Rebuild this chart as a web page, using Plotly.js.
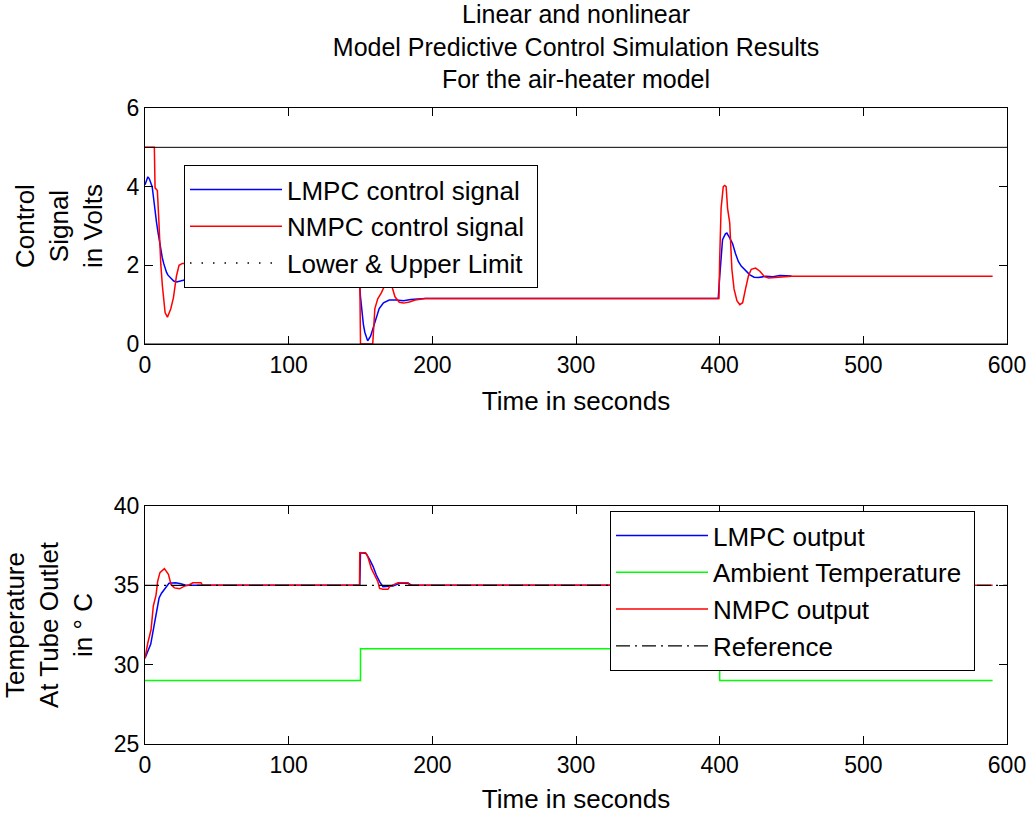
<!DOCTYPE html>
<html>
<head>
<meta charset="utf-8">
<script src="https://cdn.plot.ly/plotly-3.0.1.min.js"></script>
<style>html,body{margin:0;padding:0;background:#fff;}#chart{width:1032px;height:814px;}</style>
</head>
<body>
<div id="chart"></div>
<script>
// ---- Top panel: control signals (Volts) ----
const lmpcCtrlT = [0,1,2,3,4,5,6,7,8,9,10,11,12,13,14,15,16,18,20,22,24,26,28,30,35,40,60,100,149,150,151,152,153,155,157,159,161,163,166,170,175,180,185,190,195,250,300,350,399,400,401,402,404,405,407,409,411,413,415,418,421,424,427,432,437,442,446,450];
const lmpcCtrlU = [4.05,4.15,4.25,4.2,4.1,4.0,3.7,3.35,3.1,2.85,2.6,2.4,2.2,2.05,1.92,1.82,1.75,1.66,1.6,1.58,1.6,1.62,1.64,1.66,1.7,1.7,1.7,1.7,1.7,1.2,0.8,0.5,0.3,0.08,0.2,0.45,0.7,0.9,1.05,1.12,1.12,1.1,1.13,1.15,1.16,1.16,1.16,1.16,1.16,1.7,2.2,2.65,2.8,2.82,2.7,2.55,2.3,2.1,1.98,1.86,1.76,1.7,1.69,1.72,1.71,1.74,1.74,1.73];

const nmpcCtrlT = [0,6.5,7,8.6,9.5,10.2,11,12.1,14,15.6,17.9,19.8,21.9,23.7,26,28,30,33,36,40,45,50,100,149.5,150,158.5,160,162,164.5,167,170,172,174,177,180,184,188,195,250,300,350,399.5,400,401,402.5,403.5,404.5,405.5,407,408.5,410,412,414,416,418,420,422,425,428,431,434,440,450,520,590];
const nmpcCtrlU = [5,5,3.97,3.9,3.25,2.6,2.03,1.48,0.8,0.68,0.89,1.18,1.73,2.0,2.05,2.05,1.95,1.8,1.68,1.65,1.69,1.7,1.7,1.7,0,0,0.9,1.15,1.3,1.5,1.58,1.45,1.2,1.06,1.04,1.07,1.12,1.155,1.155,1.155,1.155,1.155,2.15,3.45,4.0,4.03,4.0,3.45,3.08,1.9,1.4,1.1,1.0,1.05,1.4,1.73,1.9,1.93,1.85,1.72,1.68,1.69,1.72,1.72,1.72];

const limitT = [0,600];
const upperLimit = [5,5];
const lowerLimit = [0,0];

// ---- Bottom panel: temperatures (deg C) ----
const lmpcOutT = [0,2,4,6,7.4,9.8,11.5,13.3,16.7,19,21.4,24.9,28.4,35,100,149.5,150,154,156.5,158.7,161,163.3,165.6,169,172.6,177.2,183.1,186,250,399.5,400,403,407,411,415,420,425,430,440,450];
const lmpcOutY = [30.4,30.9,31.3,32.3,33.0,34.2,34.5,34.7,35.13,35.15,35.16,35.1,35.0,35.0,35.0,35.0,37.06,37.0,36.6,36.2,35.65,35.23,34.92,34.93,34.95,35.13,35.13,35.0,35.0,35.0,33.0,33.1,33.6,34.2,34.7,35.0,35.1,35.05,35.0,35.0];

const ambientT = [0,150,150,400,400,590];
const ambientY = [29,29,31,31,29,29];

const nmpcOutT = [0,1.9,4.2,5.8,7.7,8.8,10.4,13.5,16.3,18.1,20.5,24,27.5,30,33.3,39,40,100,149.3,149.5,153.5,155.1,157.5,159.8,162.1,163.3,165.6,169.1,170.3,176.1,183.1,184.2,250,399.5,400,403,406,409,412,416,420,425,430,500,590];
const nmpcOutY = [30.4,31.35,32.2,33.7,34.4,35.25,35.8,36.05,35.7,35.05,34.84,34.78,34.95,35.0,35.16,35.16,35.0,35.0,35.0,37.06,37.06,36.8,36.07,35.65,35.23,34.81,34.75,34.75,34.92,35.17,35.17,35.0,35.0,35.0,33.0,33.0,33.9,34.8,35.3,35.2,35.0,35.0,35.0,35.0,35.0];

const refT = [0,600];
const refY = [35,35];

const xTicks = [0,100,200,300,400,500,600];

const FONT = 'Liberation Sans, Arial, sans-serif';
const TICKSIZE = 23;
const NB = '\u00a0';

const traces = [
  {x: lmpcCtrlT, y: lmpcCtrlU, xaxis:'x', yaxis:'y', mode:'lines', name:'LMPC control signal' + NB,
   line:{color:'#0000ff', width:1.5}, legend:'legend', legendgroup:'a'},
  {x: nmpcCtrlT, y: nmpcCtrlU, xaxis:'x', yaxis:'y', mode:'lines', name:'NMPC control signal' + NB,
   line:{color:'#ff0000', width:1.5}, legend:'legend', legendgroup:'b'},
  // limit lines (drawn), legend sample shown by the entry below
  {x: limitT.concat([null]).concat(limitT), y: upperLimit.concat([null]).concat(lowerLimit),
   xaxis:'x', yaxis:'y', mode:'lines', name:'Lower &amp; Upper Limit', connectgaps:false, showlegend:false,
   line:{color:'#000000', width:1}, legend:'legend', legendgroup:'c'},
  {x: [null], y: [null], xaxis:'x', yaxis:'y', mode:'lines', name:'Lower &amp; Upper Limit' + NB,
   line:{color:'#000000', width:1.5, dash:'1.5px,10px'}, legend:'legend', legendgroup:'c', hoverinfo:'skip'},

  {x: lmpcOutT, y: lmpcOutY, xaxis:'x2', yaxis:'y2', mode:'lines', name:'LMPC output',
   line:{color:'#0000ff', width:1.5}, legend:'legend2', legendgroup:'d'},
  {x: ambientT, y: ambientY, xaxis:'x2', yaxis:'y2', mode:'lines', name:'Ambient Temperature' + NB,
   line:{color:'#00ff00', width:1.5}, legend:'legend2', legendgroup:'e'},
  {x: nmpcOutT, y: nmpcOutY, xaxis:'x2', yaxis:'y2', mode:'lines', name:'NMPC output',
   line:{color:'#ff0000', width:1.5}, legend:'legend2', legendgroup:'f'},
  {x: refT, y: refY, xaxis:'x2', yaxis:'y2', mode:'lines', name:'Reference',
   line:{color:'#000000', width:1.2, dash:'14px,5px,2px,5px'}, legend:'legend2', legendgroup:'g'}
];

const axBase = {
  showline:true, linecolor:'#000', linewidth:1, mirror:'ticks', ticks:'inside', ticklen:8,
  tickcolor:'#000', tickwidth:1, showgrid:false, zeroline:false,
  tickfont:{family:FONT, size:TICKSIZE, color:'#000'}
};

const layout = {
  width:1032, height:814,
  margin:{l:145, r:25, t:108, b:70},
  paper_bgcolor:'#fff', plot_bgcolor:'#fff',
  font:{family:FONT, size:26, color:'#000'},
  title:{text:'Linear and nonlinear<br>Model Predictive Control Simulation Results<br>For the air-heater model',
    x:0.5, xref:'paper', xanchor:'center', y:1-23/814, yref:'container', yanchor:'top',
    font:{family:FONT, size:25, color:'#000'}},
  showlegend:true,
  xaxis: Object.assign({}, axBase, {domain:[0,1], anchor:'y', range:[0,600], tickvals:xTicks,
    title:{text:'Time in seconds', standoff:15, font:{family:FONT, size:26}}}),
  yaxis: Object.assign({}, axBase, {domain:[0.6289,1], anchor:'x', range:[0,6], dtick:2, tick0:0,
    title:{text:'Control<br>Signal<br>in Volts', standoff:16, font:{family:FONT, size:26}}}),
  xaxis2: Object.assign({}, axBase, {domain:[0,1], anchor:'y2', range:[0,600], tickvals:xTicks,
    title:{text:'Time in seconds', standoff:14, font:{family:FONT, size:26}}}),
  yaxis2: Object.assign({}, axBase, {domain:[0,0.3742], anchor:'x2', range:[25,40], dtick:5, tick0:25,
    title:{text:'Temperature<br>At Tube Outlet<br>in ° C', standoff:18, font:{family:FONT, size:26}}}),
  legend:{x:(184-145)/862, y:(744-165)/636, xanchor:'left', yanchor:'top', bgcolor:'#fff',
    bordercolor:'#000', borderwidth:1, font:{family:FONT, size:26, color:'#000'},
    itemwidth:92, tracegroupgap:2, traceorder:'normal'},
  legend2:{x:(610-145)/862, y:(744-511)/636, xanchor:'left', yanchor:'top', bgcolor:'#fff',
    bordercolor:'#000', borderwidth:1, font:{family:FONT, size:26, color:'#000'},
    itemwidth:92, tracegroupgap:0, traceorder:'normal'}
};

Plotly.newPlot('chart', traces, layout, {displayModeBar:false, staticPlot:true});
</script>
</body>
</html>
